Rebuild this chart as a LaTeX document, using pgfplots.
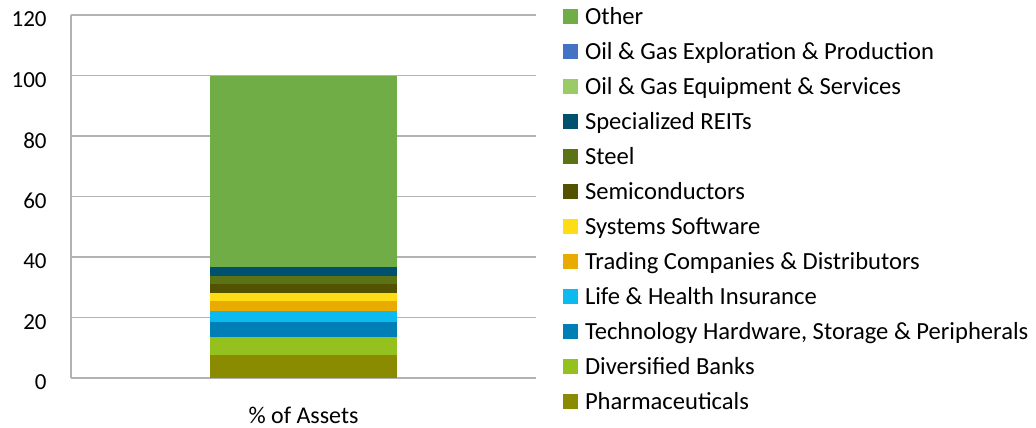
\documentclass[border=0pt]{standalone}
\usepackage{pgfplots}
\pgfplotsset{compat=1.18}
\usepackage{fontspec}
\setmainfont{Carlito}
\definecolor{cOther}{HTML}{70AD47}
\definecolor{cExpl}{HTML}{4472C4}
\definecolor{cEquip}{HTML}{9BCB66}
\definecolor{cReit}{HTML}{00506F}
\definecolor{cSteel}{HTML}{5B7314}
\definecolor{cSemi}{HTML}{525200}
\definecolor{cSoft}{HTML}{FFDD14}
\definecolor{cTrade}{HTML}{EAAB00}
\definecolor{cLife}{HTML}{0CBAEF}
\definecolor{cTech}{HTML}{007FB7}
\definecolor{cBank}{HTML}{95C11F}
\definecolor{cPharma}{HTML}{8A8B00}
\begin{document}
\begin{tikzpicture}
\useasboundingbox (0,0) rectangle (518bp,-214bp);
\begin{axis}[
  at={(35.5bp,-7.5bp)}, anchor=north west,
  scale only axis, width=232.5bp, height=181.5bp,
  ybar stacked, bar width=93.5bp,
  xmin=-1, xmax=1, ymin=0, ymax=120,
  xtick={0}, xticklabels={\% of Assets},
  ytick={0,20,40,60,80,100,120},
  major tick length=0pt,
  tick style={draw=none},
  axis x line*=bottom, axis y line*=left,
  axis line style={draw=black!30, line width=0.7bp, -},
  ymajorgrids, grid style={draw=black!30, line width=0.7bp},
  /pgf/number format/assume math mode=true,
  font=\fontsize{11.5bp}{13bp}\selectfont,
  yticklabel style={font=\fontsize{11.5bp}{13bp}\selectfont, inner sep=0pt, anchor=east, xshift=-12bp, yshift=-2.25bp},
  xticklabel style={font=\fontsize{12bp}{13bp}\selectfont, inner sep=0pt, anchor=north, yshift=-14.2bp},
  reverse legend,
  legend style={at={(1,1)}, anchor=north west, xshift=13.5bp, yshift=4.3bp,
    draw=none, fill=none, inner sep=0pt, outer sep=0pt,
    font=\fontsize{12.3bp}{14bp}\selectfont,
    row sep=5.5bp,
    nodes={inner sep=0pt, text height=9bp, text depth=3bp, anchor=base west},
    /tikz/every odd column/.append style={column sep=3.5bp}},
  legend image code/.code={\fill[#1] (0bp,0bp) rectangle (7.5bp,7.5bp);},
  legend cell align=left,
]
\addplot[fill=cPharma, draw=none] coordinates {(0,7.7)};
\addlegendentry{Pharmaceuticals}
\addplot[fill=cBank, draw=none] coordinates {(0,5.7)};
\addlegendentry{Diversified Banks}
\addplot[fill=cTech, draw=none] coordinates {(0,4.95)};
\addlegendentry{Technology Hardware, Storage \& Peripherals}
\addplot[fill=cLife, draw=none] coordinates {(0,3.65)};
\addlegendentry{Life \& Health Insurance}
\addplot[fill=cTrade, draw=none] coordinates {(0,3.3)};
\addlegendentry{Trading Companies \& Distributors}
\addplot[fill=cSoft, draw=none] coordinates {(0,2.95)};
\addlegendentry{Systems Software}
\addplot[fill=cSemi, draw=none] coordinates {(0,2.95)};
\addlegendentry{Semiconductors}
\addplot[fill=cSteel, draw=none] coordinates {(0,2.65)};
\addlegendentry{Steel}
\addplot[fill=cReit, draw=none] coordinates {(0,2.7)};
\addlegendentry{Specialized REITs}
\addplot[fill=cEquip, draw=none] coordinates {(0,0.1)};
\addlegendentry{Oil \& Gas Equipment \& Services}
\addplot[fill=cExpl, draw=none] coordinates {(0,0.2)};
\addlegendentry{Oil \& Gas Exploration \& Production}
\addplot[fill=cOther, draw=none] coordinates {(0,63.15)};
\addlegendentry{Other}
\end{axis}
\end{tikzpicture}
\end{document}
